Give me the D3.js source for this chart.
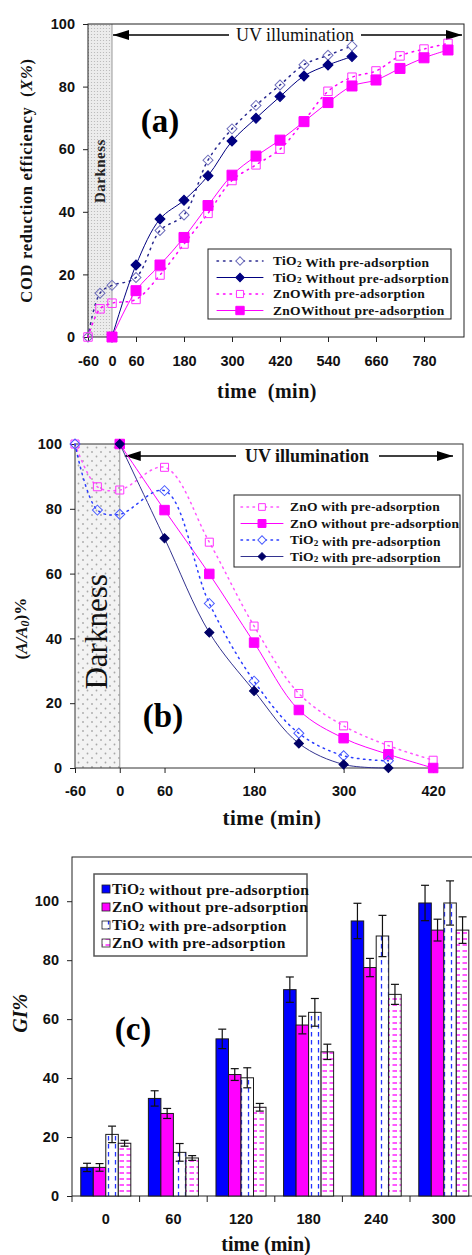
<!DOCTYPE html>
<html>
<head>
<meta charset="utf-8">
<script src="https://cdn.jsdelivr.net/npm/d3@7"></script>
<style>
  html, body { margin: 0; padding: 0; background: #fff; }
  svg text { white-space: pre; }
</style>
</head>
<body>
<div id="chart"></div>
<script>
// ---- panel (a): COD reduction efficiency vs time ----
const A_TIME_WITH = [-60, -30, 0, 60, 120, 180, 240, 300, 360, 420, 480, 540, 600];
const A_TIO2_WITH = [0, 14, 16.5, 19, 34, 39, 56.5, 66.5, 74, 80.5, 87, 90, 93];
const A_TIME_TIO2_WITHOUT = [0, 60, 120, 180, 240, 300, 360, 420, 480, 540, 600];
const A_TIO2_WITHOUT = [0, 23, 37.7, 43.7, 51.5, 62.6, 69.9, 76.8, 83.4, 86.9, 89.6];
const A_TIME_ZNO_WITH = [-60, -30, 0, 60, 120, 180, 240, 300, 360, 420, 480, 540, 600, 660, 720, 780, 840];
const A_ZNO_WITH = [0, 9, 10.8, 12, 19.8, 29.7, 39.5, 50, 55, 60, 69, 78.5, 83, 85, 89.8, 92, 93.8];
const A_TIME_ZNO_WITHOUT = [0, 60, 120, 180, 240, 300, 360, 420, 480, 540, 600, 660, 720, 780, 840];
const A_ZNO_WITHOUT = [0, 14.8, 23, 31.8, 42, 51.7, 57.8, 62.9, 68.8, 74.9, 80.2, 82.1, 85.8, 89.2, 91.7];
const A_LABELS = ['TiO₂ With pre-adsorption', 'TiO₂ Without pre-adsorption', 'ZnOWith pre-adsorption', 'ZnOWithout pre-adsorption'];
const A_XTICKS = [-60, 0, 60, 180, 300, 420, 540, 660, 780];
const A_YTICKS = [0, 20, 40, 60, 80, 100];

// ---- panel (b): (A/A0)% vs time ----
const B_TIME_ZNO_WITH = [-60, -30, 0, 60, 120, 180, 240, 300, 360, 420];
const B_ZNO_WITH = [100, 86.8, 85.8, 92.8, 69.7, 43.8, 23, 13, 6.9, 2.4];
const B_TIME_ZNO_WITHOUT = [0, 60, 120, 180, 240, 300, 360, 420];
const B_ZNO_WITHOUT = [100, 79.6, 59.9, 38.7, 17.9, 9.2, 4.2, 0];
const B_TIME_TIO2_WITH = [-60, -30, 0, 60, 120, 180, 240, 300, 360];
const B_TIO2_WITH = [100, 79.6, 78.3, 85.6, 50.8, 26.8, 10.7, 3.8, 2.2];
const B_TIME_TIO2_FILLED = [0, 60, 120, 180, 240, 300, 360];
const B_TIO2_FILLED = [100, 70.9, 41.8, 23.8, 7.6, 1.1, 0];
const B_LABELS = ['ZnO with pre-adsorption', 'ZnO without pre-adsorption', 'TiO₂ with pre-adsorption', 'TiO₂ with pre-adsorption'];
const B_XTICKS = [-60, 0, 60, 180, 300, 420];
const B_YTICKS = [0, 20, 40, 60, 80, 100];

// ---- panel (c): GI% bars ----
const C_TIMES = ['0', '60', '120', '180', '240', '300'];
const C_KEYS = ['tio2Without', 'znoWithout', 'tio2With', 'znoWith'];
const C_LABELS = ['TiO₂ without pre-adsorption', 'ZnO without pre-adsorption', 'TiO₂ with pre-adsorption', 'ZnO with pre-adsorption'];
const C_TIO2_WITHOUT = [9.7, 33.1, 53.3, 70, 93.3, 99.4];
const C_TIO2_WITHOUT_ERR = [1.4, 2.6, 3.3, 4.3, 6, 6];
const C_ZNO_WITHOUT = [9.7, 28, 41.2, 58, 77.5, 90.2];
const C_ZNO_WITHOUT_ERR = [1.3, 1.7, 2, 3, 3.1, 3.7];
const C_TIO2_WITH = [20.9, 14.8, 40.1, 62.3, 88.2, 99.4];
const C_TIO2_WITH_ERR = [2.8, 3, 3.4, 4.7, 7, 7.5];
const C_ZNO_WITH = [17.9, 12.9, 30.1, 48.9, 68.4, 90.2];
const C_ZNO_WITH_ERR = [1, 0.8, 1.3, 2.6, 3.4, 4.5];
const C_YTICKS = [0, 20, 40, 60, 80, 100];

const SERIF = "'Liberation Serif', 'Times New Roman', serif";
const SANS = "'Liberation Sans', Arial, sans-serif";
const NAVY = '#000080';
const MAGENTA = '#ff00ff';

const W = 472, H = 1255;
const svg = d3.select('#chart').append('svg')
  .attr('width', W).attr('height', H)
  .attr('viewBox', `0 0 ${W} ${H}`);
svg.append('rect').attr('width', W).attr('height', H).attr('fill', '#fff');

const defs = svg.append('defs');

// dotted fill for the darkness band
const pa = defs.append('pattern').attr('id', 'darkA')
  .attr('patternUnits', 'userSpaceOnUse').attr('width', 3).attr('height', 3);
pa.append('rect').attr('width', 3).attr('height', 3).attr('fill', '#ececec');
pa.append('circle').attr('cx', 1.5).attr('cy', 1.5).attr('r', 0.6).attr('fill', '#b4b4b4');

const pb = defs.append('pattern').attr('id', 'darkB')
  .attr('patternUnits', 'userSpaceOnUse').attr('width', 9).attr('height', 9);
pb.append('rect').attr('width', 9).attr('height', 9).attr('fill', '#f3f3f3');
pb.append('circle').attr('cx', 2).attr('cy', 2).attr('r', 0.9).attr('fill', '#a8a8a8');
pb.append('circle').attr('cx', 6.5).attr('cy', 6.5).attr('r', 0.9).attr('fill', '#a8a8a8');

// hatch patterns for "with pre-adsorption" bars
const pt = defs.append('pattern').attr('id', 'hatchTio2')
  .attr('patternUnits', 'userSpaceOnUse').attr('width', 7).attr('height', 8);
pt.append('rect').attr('width', 7).attr('height', 8).attr('fill', '#fff');
pt.append('line').attr('x1', 3.5).attr('x2', 3.5).attr('y1', 0).attr('y2', 4.5)
  .attr('stroke', '#2233ff').attr('stroke-width', 1.3);

const pz = defs.append('pattern').attr('id', 'hatchZno')
  .attr('patternUnits', 'userSpaceOnUse').attr('width', 7).attr('height', 6);
pz.append('rect').attr('width', 7).attr('height', 6).attr('fill', '#fff');
pz.append('line').attr('x1', 0.5).attr('x2', 5).attr('y1', 3).attr('y2', 3)
  .attr('stroke', '#ff22ff').attr('stroke-width', 1.5);

// arrow head
defs.append('marker').attr('id', 'arrow')
  .attr('viewBox', '0 0 16 10').attr('refX', 16).attr('refY', 5)
  .attr('markerWidth', 16).attr('markerHeight', 10)
  .attr('markerUnits', 'userSpaceOnUse').attr('orient', 'auto-start-reverse')
  .append('path').attr('d', 'M0,0 L16,5 L0,10 Z').attr('fill', '#000');

// text with "₂" rendered as a small lowered 2
function richText(sel, str) {
  str.split(/(₂)/).forEach(p => {
    if (!p) return;
    if (p === '₂') {
      sel.append('tspan').attr('font-size', '0.68em').attr('dy', '0.12em').text('2');
      sel.append('tspan').attr('dy', '-0.12em').text('');
    } else {
      sel.append('tspan').text(p);
    }
  });
  return sel;
}

function drawMarkers(g, xs, ys, x, y, m) {
  g.selectAll(null).data(xs.map((t, i) => [t, ys[i]])).join('path')
    .attr('d', d3.symbol(d3.symbolSquare, m.size)())
    .attr('transform', d => `translate(${x(d[0])},${y(d[1])})${m.diamond ? ' rotate(45)' : ''}`)
    .attr('fill', m.fill)
    .attr('stroke', m.stroke)
    .attr('stroke-width', m.sw || 1);
}

function drawSeries(g, s, x, y) {
  const pts = s.t.map((t, i) => [t, s.v[i]]);
  const line = d3.line().x(d => x(d[0])).y(d => y(d[1])).curve(d3.curveCatmullRom.alpha(0.5));
  g.append('path').datum(pts)
    .attr('d', line)
    .attr('fill', 'none')
    .attr('stroke', s.line)
    .attr('stroke-width', s.lw || 1)
    .attr('stroke-dasharray', s.dash || null)
    .attr('stroke-linecap', 'round');
  drawMarkers(g, s.t, s.v, x, y, s.m);
}

function styleAxis(ax, size) {
  ax.select('.domain').remove();
  ax.selectAll('line').attr('stroke', '#222');
  ax.selectAll('text').attr('font-family', SANS).attr('font-weight', 'bold')
    .attr('font-size', size).attr('fill', '#111');
}

function legendBox(g, x0, y0, w, h, rows, opts) {
  g.append('rect').attr('x', x0).attr('y', y0).attr('width', w).attr('height', h)
    .attr('fill', '#fff').attr('stroke', opts.stroke || '#222').attr('stroke-width', opts.bw || 1);
  rows.forEach((r, i) => {
    const yy = y0 + opts.first + i * opts.step;
    if (opts.swatch) {
      g.append('rect').attr('x', x0 + 8).attr('y', yy - 4).attr('width', 8).attr('height', 8)
        .attr('fill', r.fill).attr('stroke', '#222').attr('stroke-width', 0.8);
    } else {
      g.append('line').attr('x1', x0 + opts.lx0).attr('x2', x0 + opts.lx1)
        .attr('y1', yy).attr('y2', yy)
        .attr('stroke', r.line).attr('stroke-width', r.lw || 1)
        .attr('stroke-dasharray', r.dash || null).attr('stroke-linecap', 'round');
      const mid = x0 + (opts.lx0 + opts.lx1) / 2;
      g.append('path').attr('d', d3.symbol(d3.symbolSquare, r.m.size * 0.7)())
        .attr('transform', `translate(${mid},${yy})${r.m.diamond ? ' rotate(45)' : ''}`)
        .attr('fill', r.m.fill === 'none' ? '#fff' : r.m.fill).attr('stroke', r.m.stroke);
    }
    richText(g.append('text').attr('x', x0 + opts.tx).attr('y', yy + opts.fs * 0.33)
      .attr('font-family', SERIF).attr('font-weight', 'bold').attr('font-size', opts.fs)
      .attr('letter-spacing', opts.ls || 0)
      .attr('fill', '#111'), r.label);
  });
}

const plain = d => String(d);

// ================= PANEL (a) =================
{
  const x = d3.scaleLinear().domain([-60, 880]).range([88, 464]);
  const y = d3.scaleLinear().domain([0, 100]).range([337, 24]);
  const g = svg.append('g');
  const [yb, yt] = y.range();

  g.append('rect').attr('x', x(-60)).attr('y', yt).attr('width', x(0) - x(-60)).attr('height', yb - yt)
    .attr('fill', 'url(#darkA)');
  g.append('line').attr('x1', x(0)).attr('x2', x(0)).attr('y1', yt).attr('y2', yb)
    .attr('stroke', '#999').attr('stroke-width', 1);
  g.append('text')
    .attr('transform', `translate(${(x(-60) + x(0)) / 2 + 5},${y(53)}) rotate(-90)`)
    .attr('text-anchor', 'middle').attr('font-family', SERIF).attr('font-weight', 'bold')
    .attr('font-size', 15).attr('letter-spacing', 0.5).attr('fill', '#222').text('Darkness');

  // frame
  g.append('rect').attr('x', x.range()[0]).attr('y', yt)
    .attr('width', x.range()[1] - x.range()[0]).attr('height', yb - yt)
    .attr('fill', 'none').attr('stroke', '#222').attr('stroke-width', 1);

  g.append('g').attr('transform', `translate(0,${yb})`)
    .call(d3.axisBottom(x).tickValues(A_XTICKS).tickFormat(plain).tickSize(5).tickPadding(14))
    .call(ax => styleAxis(ax, 14.5));
  g.append('g').attr('transform', `translate(${x.range()[0]},0)`)
    .call(d3.axisLeft(y).tickValues(A_YTICKS).tickSize(5).tickPadding(8))
    .call(ax => styleAxis(ax, 14.5));

  // UV arrow
  const ay = 35;
  g.append('line').attr('x1', x(0) + 1).attr('x2', x.range()[1] - 2).attr('y1', ay).attr('y2', ay)
    .attr('stroke', '#000').attr('stroke-width', 1.5)
    .attr('marker-start', 'url(#arrow)').attr('marker-end', 'url(#arrow)');
  g.append('rect').attr('x', 229).attr('y', ay - 10).attr('width', 132).attr('height', 20).attr('fill', '#fff');
  g.append('text').attr('x', 295).attr('y', ay + 6).attr('text-anchor', 'middle')
    .attr('font-family', SERIF).attr('font-size', 18).attr('fill', '#111').text('UV illumination');

  g.append('text').attr('x', 160).attr('y', 132).attr('text-anchor', 'middle')
    .attr('font-family', SERIF).attr('font-weight', 'bold').attr('font-size', 33).text('(a)');

  const series = [
    { t: A_TIME_WITH, v: A_TIO2_WITH, line: '#2a2a90', dash: '1.5,5', lw: 1.5,
      m: { diamond: true, size: 50, fill: 'none', stroke: '#6d6dbb' } },
    { t: A_TIME_TIO2_WITHOUT, v: A_TIO2_WITHOUT, line: NAVY, lw: 1,
      m: { diamond: true, size: 50, fill: NAVY, stroke: NAVY } },
    { t: A_TIME_ZNO_WITH, v: A_ZNO_WITH, line: MAGENTA, dash: '1.5,5', lw: 1.5,
      m: { size: 72, fill: 'none', stroke: '#ff33ff' } },
    { t: A_TIME_ZNO_WITHOUT, v: A_ZNO_WITHOUT, line: MAGENTA, lw: 1,
      m: { size: 100, fill: MAGENTA, stroke: MAGENTA } },
  ];
  series.forEach(s => drawSeries(g, s, x, y));

  legendBox(g, 208, 249, 243, 70,
    series.map((s, i) => ({ ...s, label: A_LABELS[i] })),
    { first: 12, step: 16.5, lx0: 9, lx1: 55, tx: 65, fs: 13.5, ls: 0.3 });

  g.append('text')
    .attr('transform', `translate(32,${(yt + yb) / 2}) rotate(-90)`)
    .attr('text-anchor', 'middle').attr('font-family', SERIF).attr('font-weight', 'bold')
    .attr('font-size', 16.5).attr('letter-spacing', 0.7).attr('fill', '#111')
    .call(t => {
      t.append('tspan').text('COD reduction efficiency  (');
      t.append('tspan').attr('font-style', 'italic').text('X%');
      t.append('tspan').text(')');
    });
  g.append('text').attr('x', 267).attr('y', 398).attr('text-anchor', 'middle')
    .attr('font-family', SERIF).attr('font-weight', 'bold').attr('font-size', 20)
    .attr('letter-spacing', 0.5).attr('fill', '#111').text('time  (min)');
}

// ================= PANEL (b) =================
{
  const x = d3.scaleLinear().domain([-60, 460]).range([75, 463]);
  const y = d3.scaleLinear().domain([0, 100]).range([768, 444]);
  const g = svg.append('g');
  const [yb, yt] = y.range();

  g.append('rect').attr('x', x(-60)).attr('y', yt).attr('width', x(0) - x(-60)).attr('height', yb - yt)
    .attr('fill', 'url(#darkB)');
  g.append('line').attr('x1', x(0)).attr('x2', x(0)).attr('y1', yt).attr('y2', yb)
    .attr('stroke', '#999').attr('stroke-width', 1);
  g.append('text')
    .attr('transform', `translate(${(x(-60) + x(0)) / 2 + 10},${y(42)}) rotate(-90)`)
    .attr('text-anchor', 'middle').attr('font-family', SERIF)
    .attr('font-size', 31).attr('fill', '#111').text('Darkness');

  g.append('rect').attr('x', x.range()[0]).attr('y', yt)
    .attr('width', x.range()[1] - x.range()[0]).attr('height', yb - yt)
    .attr('fill', 'none').attr('stroke', '#333').attr('stroke-width', 1);

  g.append('g').attr('transform', `translate(0,${yb})`)
    .call(d3.axisBottom(x).tickValues(B_XTICKS).tickFormat(plain).tickSize(5).tickPadding(13))
    .call(ax => styleAxis(ax, 14.5));
  g.append('g').attr('transform', `translate(${x.range()[0]},0)`)
    .call(d3.axisLeft(y).tickValues(B_YTICKS).tickSize(5).tickPadding(8))
    .call(ax => styleAxis(ax, 14.5));

  const ay = 456;
  g.append('line').attr('x1', x(0) + 5).attr('x2', x.range()[1] - 10).attr('y1', ay).attr('y2', ay)
    .attr('stroke', '#000').attr('stroke-width', 1.5)
    .attr('marker-start', 'url(#arrow)').attr('marker-end', 'url(#arrow)');
  g.append('rect').attr('x', 236).attr('y', ay - 10).attr('width', 143).attr('height', 20).attr('fill', '#fff');
  g.append('text').attr('x', 307).attr('y', ay + 6).attr('text-anchor', 'middle')
    .attr('font-family', SERIF).attr('font-weight', 'bold').attr('font-size', 18)
    .attr('fill', '#111').text('UV illumination');

  g.append('text').attr('x', 163).attr('y', 727).attr('text-anchor', 'middle')
    .attr('font-family', SERIF).attr('font-weight', 'bold').attr('font-size', 33).text('(b)');

  const series = [
    { t: B_TIME_ZNO_WITH, v: B_ZNO_WITH, line: '#ff55ff', dash: '1.5,4.5', lw: 1.5,
      m: { size: 64, fill: 'none', stroke: '#ff33ff' } },
    { t: B_TIME_ZNO_WITHOUT, v: B_ZNO_WITHOUT, line: MAGENTA, lw: 1,
      m: { size: 90, fill: MAGENTA, stroke: MAGENTA } },
    { t: B_TIME_TIO2_WITH, v: B_TIO2_WITH, line: '#2a3cff', dash: '1.5,4.5', lw: 1.5,
      m: { diamond: true, size: 50, fill: 'none', stroke: '#4a5cff' } },
    { t: B_TIME_TIO2_FILLED, v: B_TIO2_FILLED, line: '#33338f', lw: 1,
      m: { diamond: true, size: 42, fill: '#000066', stroke: '#000066' } },
  ];
  series.forEach(s => drawSeries(g, s, x, y));

  legendBox(g, 234, 495, 226, 72,
    series.map((s, i) => ({ ...s, label: B_LABELS[i] })),
    { first: 12, step: 16.5, lx0: 7, lx1: 49, tx: 56, fs: 13.5, ls: 0.2 });

  g.append('text')
    .attr('transform', `translate(27,${y(43)}) rotate(-90)`)
    .attr('text-anchor', 'middle').attr('font-family', SERIF).attr('font-weight', 'bold')
    .attr('font-size', 17).attr('fill', '#111')
    .call(t => {
      t.append('tspan').text('(');
      t.append('tspan').attr('font-style', 'italic').text('A/A');
      t.append('tspan').attr('font-style', 'italic').attr('font-size', '0.7em').attr('dy', '0.2em').text('0');
      t.append('tspan').attr('dy', '-0.2em').text(')%');
    });
  g.append('text').attr('x', 272).attr('y', 825).attr('text-anchor', 'middle')
    .attr('font-family', SERIF).attr('font-weight', 'bold').attr('font-size', 21)
    .attr('letter-spacing', 0.5).attr('fill', '#111').text('time (min)');
}

// ================= PANEL (c) =================
{
  const x0 = d3.scaleBand().domain(C_TIMES).range([72, 477.6]);
  const bw = x0.bandwidth();
  const x1 = d3.scaleBand().domain(C_KEYS).range([bw * 0.13, bw * 0.87]);
  const y = d3.scaleLinear().domain([0, 115]).range([1196, 857]);
  const g = svg.append('g');
  const [yb, yt] = y.range();

  const values = { tio2Without: C_TIO2_WITHOUT, znoWithout: C_ZNO_WITHOUT, tio2With: C_TIO2_WITH, znoWith: C_ZNO_WITH };
  const errs = { tio2Without: C_TIO2_WITHOUT_ERR, znoWithout: C_ZNO_WITHOUT_ERR, tio2With: C_TIO2_WITH_ERR, znoWith: C_ZNO_WITH_ERR };
  const fills = { tio2Without: '#0000ff', znoWithout: '#ff00ff', tio2With: 'url(#hatchTio2)', znoWith: 'url(#hatchZno)' };

  g.append('rect').attr('x', x0.range()[0]).attr('y', yt)
    .attr('width', x0.range()[1] - x0.range()[0] + 6).attr('height', yb - yt)
    .attr('fill', 'none').attr('stroke', '#222').attr('stroke-width', 1);

  const rows = [];
  C_TIMES.forEach((c, i) => C_KEYS.forEach(k => rows.push({ c, k, v: values[k][i], e: errs[k][i] })));

  g.selectAll('.bar').data(rows).join('rect').attr('class', 'bar')
    .attr('x', d => x0(d.c) + x1(d.k))
    .attr('y', d => y(d.v))
    .attr('width', x1.bandwidth())
    .attr('height', d => yb - y(d.v))
    .attr('fill', d => fills[d.k])
    .attr('stroke', '#1a1a1a').attr('stroke-width', 1);

  const eb = g.selectAll('.err').data(rows).join('g').attr('class', 'err')
    .attr('transform', d => `translate(${x0(d.c) + x1(d.k) + x1.bandwidth() / 2},0)`)
    .attr('stroke', '#111').attr('stroke-width', 1.2);
  eb.append('line').attr('y1', d => y(d.v - d.e)).attr('y2', d => y(d.v + d.e));
  eb.append('line').attr('x1', -4).attr('x2', 4).attr('y1', d => y(d.v + d.e)).attr('y2', d => y(d.v + d.e));
  eb.append('line').attr('x1', -4).attr('x2', 4).attr('y1', d => y(d.v - d.e)).attr('y2', d => y(d.v - d.e));

  // category boundary ticks
  g.selectAll('.ctick').data(C_TIMES).join('line').attr('class', 'ctick')
    .attr('x1', d => x0(d)).attr('x2', d => x0(d))
    .attr('y1', yb).attr('y2', yb + 6).attr('stroke', '#222');

  g.append('g').attr('transform', `translate(0,${yb})`)
    .call(d3.axisBottom(x0).tickSize(0).tickPadding(18))
    .call(ax => styleAxis(ax, 14.5));
  g.append('g').attr('transform', `translate(${x0.range()[0]},0)`)
    .call(d3.axisLeft(y).tickValues(C_YTICKS).tickSize(5).tickPadding(8))
    .call(ax => styleAxis(ax, 14.5));

  g.append('text').attr('x', 133).attr('y', 1040).attr('text-anchor', 'middle')
    .attr('font-family', SERIF).attr('font-weight', 'bold').attr('font-size', 33).text('(c)');

  legendBox(g, 94, 874, 213, 82,
    C_KEYS.map((k, i) => ({ fill: fills[k], label: C_LABELS[i] })),
    { first: 15, step: 18, tx: 18, fs: 15.5, ls: 0.3, swatch: true, stroke: '#555', bw: 1.5 });

  g.append('text')
    .attr('transform', `translate(27,${y(62)}) rotate(-90)`)
    .attr('text-anchor', 'middle').attr('font-family', SERIF).attr('font-weight', 'bold')
    .attr('font-style', 'italic').attr('font-size', 20).attr('fill', '#111').text('GI%');
  g.append('text').attr('x', 266).attr('y', 1251).attr('text-anchor', 'middle')
    .attr('font-family', SERIF).attr('font-weight', 'bold').attr('font-size', 20)
    .attr('fill', '#111').text('time (min)');
}
</script>
</body>
</html>
